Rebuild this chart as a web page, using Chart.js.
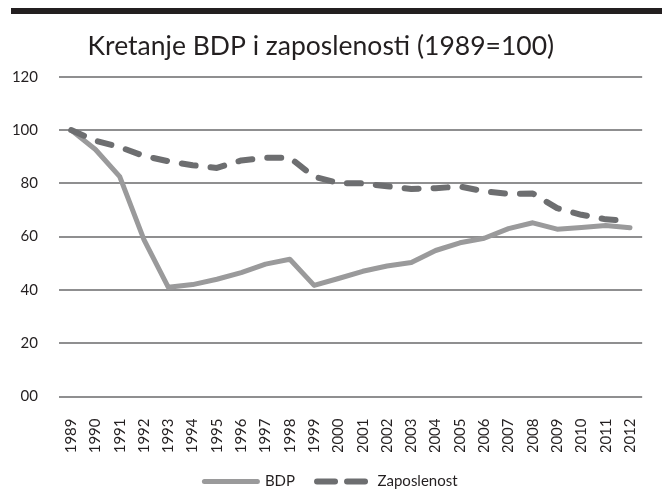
<!DOCTYPE html>
<html>
<head>
<meta charset="utf-8">
<script src="https://cdn.jsdelivr.net/npm/chart.js@4/dist/chart.umd.min.js"></script>
<style>
  html, body { margin: 0; padding: 0; background: #fff; }
  #wrap { width: 662px; height: 493px; position: relative; }
</style>
</head>
<body>
<div id="wrap"><canvas id="bdpChart"></canvas></div>
<script>
// Kretanje BDP i zaposlenosti (1989=100)
var years = ['1989','1990','1991','1992','1993','1994','1995','1996','1997','1998','1999','2000',
             '2001','2002','2003','2004','2005','2006','2007','2008','2009','2010','2011','2012'];
var bdp = [100, 92.7, 82.5, 58.8, 41, 42, 44, 46.5, 49.7, 51.5, 41.7, 44.3,
           47, 49, 50.3, 54.8, 57.7, 59.4, 63, 65.2, 62.8, 63.4, 64.2, 63.3];
var zaposlenost = [100, 96, 93.6, 90.3, 88.3, 86.8, 85.8, 88.6, 89.6, 89.6, 82.5, 80.1,
                   80, 78.9, 77.9, 78.2, 78.8, 77, 76.1, 76.2, 70.7, 68.2, 66.5, 65.8];
var yTicks = [0, 20, 40, 60, 80, 100, 120];
var yTickLabels = ['00', '20', '40', '60', '80', '100', '120'];

(function(){
  var chartEl = document.getElementById('bdpChart');
  if (!chartEl || typeof Chart === 'undefined') { return; }

  var textColor = '#231f20';
  var fontFam = 'Lato, "Open Sans", sans-serif';

  // crna traka na vrhu
  var topBar = {
    id: 'topBar',
    beforeDraw: function(chart){
      var ctx = chart.ctx;
      ctx.save();
      ctx.fillStyle = '#fff';
      ctx.fillRect(0, 0, chart.width, chart.height);
      ctx.fillStyle = '#231f20';
      ctx.fillRect(11, 8, chart.width - 11, 6);
      ctx.restore();
    }
  };

  new Chart(chartEl.getContext('2d'), {
    type: 'line',
    data: {
      labels: years,
      datasets: [
        {
          label: 'BDP',
          data: bdp,
          borderColor: '#9a9a9b',
          backgroundColor: '#9a9a9b',
          borderWidth: 5,
          borderCapStyle: 'round',
          borderJoinStyle: 'round',
          pointRadius: 0,
          tension: 0,
          order: 1
        },
        {
          label: 'Zaposlenost',
          data: zaposlenost,
          borderColor: '#6d6e70',
          backgroundColor: '#6d6e70',
          borderWidth: 6,
          borderDash: [14, 15],
          borderCapStyle: 'round',
          borderJoinStyle: 'round',
          pointRadius: 0,
          tension: 0,
          order: 0
        }
      ]
    },
    options: {
      responsive: true,
      maintainAspectRatio: false,
      animation: false,
      layout: { padding: { top: 0, right: 0, bottom: -6, left: 0 } },
      scales: {
        x: {
          offset: true,
          afterFit: function(s){ s.height = 55.5; },
          grid: { display: false },
          border: { display: false },
          ticks: {
            color: textColor,
            font: { family: fontFam, size: 15 },
            minRotation: 90, maxRotation: 90,
            autoSkip: false,
            padding: 14
          }
        },
        y: {
          min: 0, max: 120,
          afterFit: function(s){ s.width = 59; },
          afterBuildTicks: function(s){ s.ticks = yTicks.map(function(v){ return { value: v }; }); },
          grid: { color: '#8f8f90', lineWidth: 2, drawTicks: false },
          border: { display: false },
          ticks: {
            color: textColor,
            font: { family: fontFam, size: 15 },
            padding: 21,
            callback: function(v){ return yTickLabels[yTicks.indexOf(v)]; }
          }
        }
      },
      plugins: {
        title: {
          display: true,
          // razmaci na kraju pomiču naslov malo ulijevo kao u originalu
          text: 'Kretanje BDP i zaposlenosti (1989=100)   ',
          color: textColor,
          font: { family: fontFam, size: 26.5, weight: 'normal' },
          padding: { top: 31, bottom: 14 }
        },
        legend: {
          position: 'bottom',
          labels: {
            color: textColor,
            font: { family: fontFam, size: 15 },
            usePointStyle: true,
            pointStyle: 'line',
            pointStyleWidth: 53,
            padding: 22,
            sort: function(a, b){ return a.datasetIndex - b.datasetIndex; },
            generateLabels: function(chart){
              var items = Chart.defaults.plugins.legend.labels.generateLabels(chart);
              items.forEach(function(it){
                var ds = chart.data.datasets[it.datasetIndex];
                it.lineDash = ds.borderDash ? [18, 12] : [];
                it.lineWidth = ds.borderWidth;
                it.strokeStyle = ds.borderColor;
                it.lineCap = 'round';
              });
              return items;
            }
          }
        },
        tooltip: { enabled: false }
      }
    },
    plugins: [topBar]
  });
})();
</script>
</body>
</html>
